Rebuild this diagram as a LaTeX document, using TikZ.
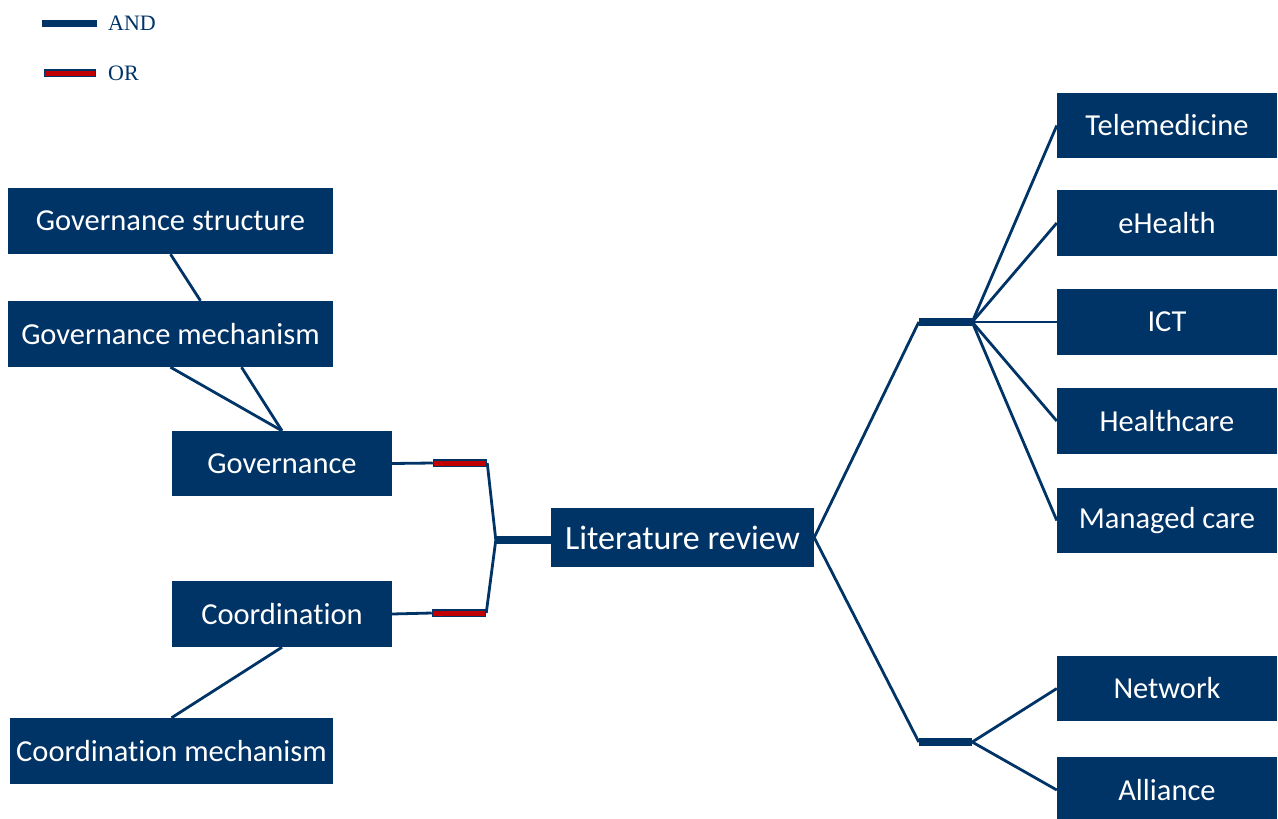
\documentclass[tikz,border=0pt]{standalone}
\usepackage{fontspec}
\setmainfont{Carlito}[Ligatures=NoCommon]
\newfontfamily\legendfont{Liberation Serif}
\usetikzlibrary{positioning}

\definecolor{navy}{RGB}{0,51,102}
\definecolor{orred}{RGB}{192,0,0}

\begin{document}
\begin{tikzpicture}[
    x=1pt, y=-1pt,
    link/.style={draw=navy, line width=2.8pt},
    term/.style={
        rectangle, fill=navy, draw=none,
        text=white, font=\fontsize{30.5}{34}\selectfont,
        minimum height=66pt, inner sep=0pt
    },
    smallterm/.style={term, minimum width=220pt},
    bigterm/.style={term, minimum width=325pt},
    andbar/.style={rectangle, fill=navy, draw=none, minimum height=8pt, inner sep=0pt},
    orbar/.style={rectangle, fill=orred, draw=navy, line width=1.5pt, minimum height=6.5pt, inner sep=0pt},
    legend/.style={text=navy, font=\legendfont\fontsize{22}{24}\selectfont, anchor=west, inner sep=0pt},
]

  \useasboundingbox (0,0) rectangle (1278,819);

  % LEGEND
  \node[andbar, minimum width=55pt, minimum height=7pt] (legAnd) at (69.5,23) {};
  \node[legend] (legAndText) at (108,23) {AND};
  \node[orbar, minimum width=51pt] (legOr) at (70,73) {};
  \node[legend] (legOrText) at (108,73) {OR};

  % LEFT SIDE
  \node[bigterm] (govStruct) at (170.5,221) {Governance structure};
  \node[bigterm] (govMech) at (170.5,334) {Governance mechanism};
  \node[smallterm, minimum height=65pt] (gov) at (282,463.5) {Governance};
  \node[smallterm] (coord) at (282,614) {Coordination};
  \node[bigterm, minimum width=323pt] (coordMech) at (171.5,751) {Coordination mechanism};

  % CENTRE
  \node[term, minimum width=263pt, minimum height=59pt,
        font=\fontsize{34}{38}\selectfont] (lit) at (682.5,537.5) {Literature review};
  \node[orbar, minimum width=53pt] (orGov) at (460,463) {};
  \node[orbar, minimum width=53pt] (orCoord) at (459,613) {};
  \node[andbar, minimum width=55pt] (andLeft) at (523.5,540) {};

  % RIGHT SIDE
  \node[andbar, minimum width=53pt] (andTop) at (945.5,322) {};
  \node[andbar, minimum width=53pt] (andBottom) at (945.5,742) {};
  \node[smallterm, minimum height=65pt] (tele) at (1167,125.5) {Telemedicine};
  \node[smallterm] (ehealth) at (1167,223) {eHealth};
  \node[smallterm] (ict) at (1167,322) {ICT};
  \node[smallterm] (health) at (1167,421) {Healthcare};
  \node[smallterm, minimum height=65pt] (managed) at (1167,520.5) {Managed care};
  \node[smallterm, minimum height=65pt] (network) at (1167,688.5) {Network};
  \node[smallterm] (alliance) at (1167,790) {Alliance};

  % CONNECTORS
  \draw[link] (govStruct.south) -- ([xshift=30pt]govMech.north);
  \draw[link] (govMech.south) -- (gov.north);
  \draw[link] ([xshift=71pt]govMech.south) -- (gov.north);
  \draw[link] (coord.south) -- (coordMech.north);
  \draw[link] (gov.east) -- (orGov.west);
  \draw[link] (coord.east) -- (orCoord.west);
  \draw[link] (orGov.east) -- (andLeft.west);
  \draw[link] (orCoord.east) -- (andLeft.west);
  \draw[link] (lit.east) -- (andTop.west);
  \draw[link] (lit.east) -- (andBottom.west);
  \foreach \t in {tele, ehealth, ict, health, managed}
    \draw[link] (andTop.east) -- (\t.west);
  \foreach \t in {network, alliance}
    \draw[link] (andBottom.east) -- (\t.west);

\end{tikzpicture}
\end{document}
